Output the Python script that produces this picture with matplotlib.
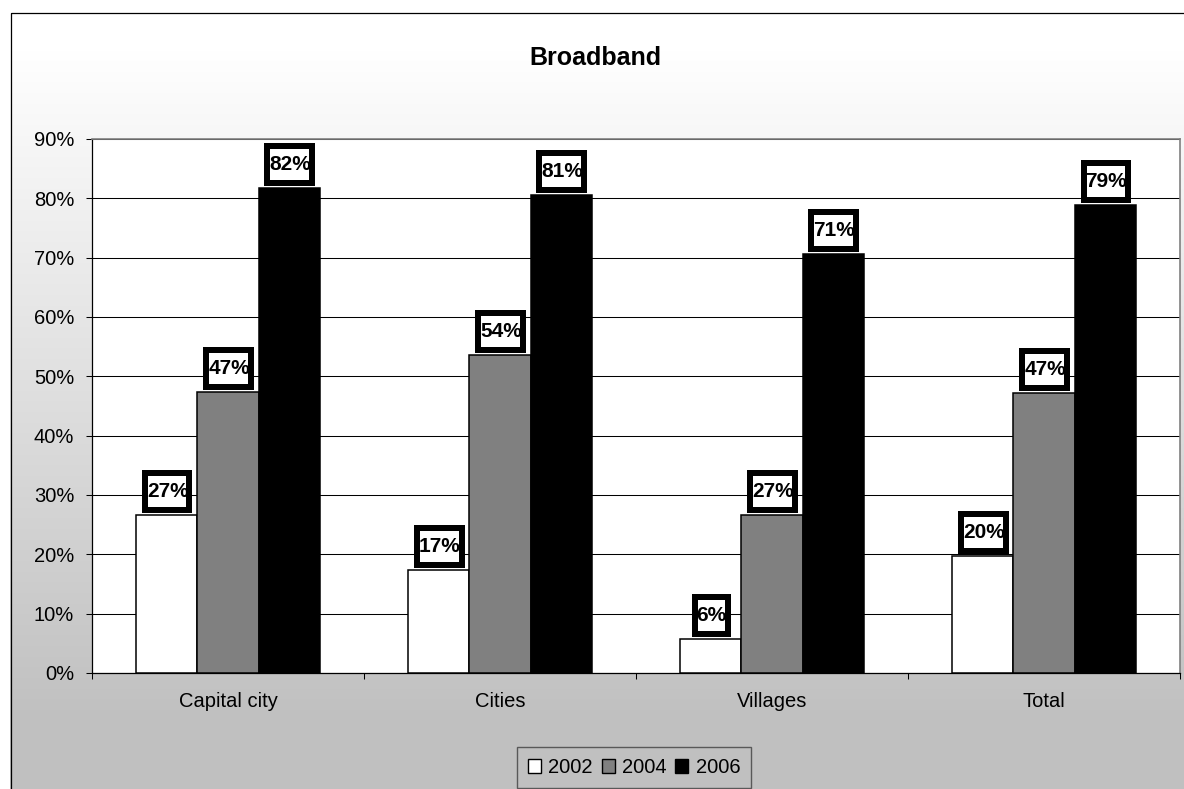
import numpy as np
import matplotlib
matplotlib.use('Agg')
import matplotlib.pyplot as plt
from matplotlib.patches import Rectangle, Patch
import matplotlib.transforms as mtransforms

categories = ["Capital city", "Cities", "Villages", "Total"]
years = ["2002", "2004", "2006"]
v2002 = [26.6, 17.4, 5.8, 19.7]
v2004 = [47.3, 53.6, 26.6, 47.2]
v2006 = [81.8, 80.6, 70.6, 78.9]
yticks = [0, 10, 20, 30, 40, 50, 60, 70, 80, 90]
bar_colors = ["#ffffff", "#808080", "#000000"]

plt.rcParams['font.family'] = ['Liberation Sans', 'DejaVu Sans']

W, H = 1184, 789
fig = plt.figure(figsize=(W / 100, H / 100), dpi=100)
fig.patch.set_facecolor('white')

# gradient chart-area background (pixel coordinates)
bg = fig.add_axes([0, 0, 1, 1], zorder=-10)
rows = np.arange(12, H)
g = np.clip(255 - (255 - 192) * (rows - 50) / (720 - 50), 192, 255) / 255.0
img = np.repeat(g[:, None], 4, axis=1)
bg.imshow(np.dstack([img, img, img]), extent=(10, W, H, 12), aspect='auto',
          interpolation='nearest', origin='upper')
bg.set_xlim(0, W)
bg.set_ylim(H, 0)
bg.axis('off')
bg.add_patch(Rectangle((10.5, 12.5), W, H, fill=False, ec='black', lw=0.9))

fig.text(595 / W, 1 - 58 / H, "Broadband", ha='center', va='center',
         fontsize=18, fontweight='bold')

ax = fig.add_axes([92 / W, (H - 673) / H, 1088 / W, 534 / H])
ax.set_facecolor('white')

x = np.arange(len(categories))
bw = 0.2255
series = [v2002, v2004, v2006]
bars_all = []
for i, (vals, c) in enumerate(zip(series, bar_colors)):
    ax.bar(x + (i - 1) * bw, vals, bw, color=c, edgecolor='black',
           linewidth=1.1, zorder=3)
    bars_all.append((x + (i - 1) * bw, vals))

ax.set_xlim(-0.5, len(categories) - 0.5)
ax.set_ylim(0, 90)
ax.set_yticks(yticks)
ax.set_yticklabels([f"{t}%" for t in yticks])
ax.yaxis.grid(True, color='black', lw=0.75)
ax.set_axisbelow(True)

ax.set_xticks(np.arange(-0.5, len(categories), 1.0))
ax.set_xticklabels([])
ax.set_xticks(x, minor=True)
ax.set_xticklabels(categories, minor=True)
ax.tick_params(axis='x', which='major', direction='out', length=4.3, width=0.75)
ax.tick_params(axis='x', which='minor', length=0, pad=14, labelsize=14.5)
ax.tick_params(axis='y', direction='out', length=4.3, width=0.75, pad=8.6,
               labelsize=14.5)

for s in ['top', 'right']:
    ax.spines[s].set_color('#808080')
    ax.spines[s].set_linewidth(1.2)
for s in ['left', 'bottom']:
    ax.spines[s].set_color('black')
    ax.spines[s].set_linewidth(0.9)

# data labels with thick-bordered boxes
texts = []
for xs, vals in bars_all:
    for xi, v in zip(xs, vals):
        t = ax.text(xi, v, f"{round(v)}%", ha='center', va='center',
                    fontsize=15, fontweight='bold', zorder=6, clip_on=False,
                    transform=mtransforms.offset_copy(ax.transData, fig=fig,
                                                      x=1, y=23.5, units='dots'))
        texts.append((t, xi, v))

fig.canvas.draw()
renderer = fig.canvas.get_renderer()
for t, xi, v in texts:
    bb = t.get_window_extent(renderer)
    tw = bb.width
    ow = tw + 9  # outer box width
    lw = 6
    pw = ow - lw
    ph = 43 - lw
    base = mtransforms.Affine2D().translate(*ax.transData.transform((xi, v)))
    rect = Rectangle((-pw / 2 + 0.5, 2 + lw / 2), pw, ph, fc='white', ec='black',
                     lw=lw * 0.72, transform=base, zorder=5, clip_on=False,
                     joinstyle='miter')
    ax.add_artist(rect)

handles = [Patch(facecolor=c, edgecolor='black', lw=1.0) for c in bar_colors]
leg = fig.legend(handles, years, loc='upper center', ncol=3,
                 bbox_to_anchor=(634 / W, 1 - 747 / H), fontsize=14.5,
                 handlelength=0.65, handleheight=0.65, handletextpad=0.35,
                 columnspacing=0.45, borderpad=0.55, borderaxespad=0,
                 frameon=True, fancybox=False)
leg.get_frame().set_facecolor('none')
leg.get_frame().set_edgecolor('#404040')
leg.get_frame().set_linewidth(1.0)

fig.savefig('out.png', dpi=100)
